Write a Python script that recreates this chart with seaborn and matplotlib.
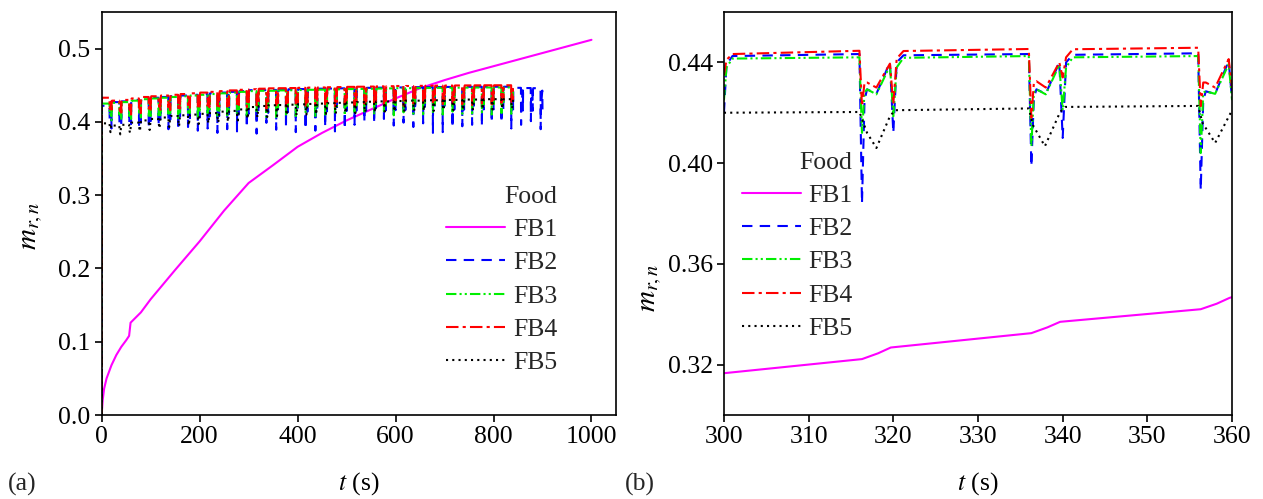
import numpy as np
import pandas as pd
import matplotlib
matplotlib.use("Agg")
import matplotlib.pyplot as plt
import seaborn as sns

# ---------------- data ----------------
series_names = ["FB1", "FB2", "FB3", "FB4", "FB5"]

# panel (a): FB1 continuous curve
fb1_a_t = [0, 2, 5, 10, 20, 30, 40, 50, 56, 59, 80, 100, 150, 200, 250, 300, 350,
           400, 450, 500, 550, 600, 650, 700, 750, 800, 850, 900, 950, 1000]
fb1_a_v = [0, 0.02, 0.036, 0.05, 0.068, 0.082, 0.093, 0.102, 0.108, 0.126, 0.140, 0.158,
           0.198, 0.237, 0.279, 0.3166, 0.341, 0.366, 0.385, 0.402, 0.417, 0.432, 0.446,
           0.457, 0.467, 0.476, 0.485, 0.494, 0.503, 0.512]

# panel (a): per 20-s cycle plateau levels and dip minima
fb2_plateau = [0.422, 0.427, 0.428, 0.430, 0.432, 0.433, 0.434, 0.435, 0.436, 0.437,
               0.438, 0.439, 0.440, 0.441, 0.442, 0.4433, 0.4433, 0.4436, 0.4442, 0.4445,
               0.4448, 0.445, 0.4453, 0.4455, 0.4458, 0.446, 0.4462, 0.4465, 0.4467, 0.447,
               0.447, 0.4472, 0.4474, 0.4475, 0.4476, 0.4477, 0.4478, 0.4479, 0.448, 0.448,
               0.448, 0.448, 0.4465, 0.4462, 0.446]
fb2_dip = [0.405, 0.399, 0.398, 0.394, 0.392, 0.395, 0.390, 0.389, 0.393, 0.388,
           0.391, 0.385, 0.390, 0.387, 0.392, 0.384, 0.3987, 0.3893, 0.392, 0.386,
           0.390, 0.388, 0.393, 0.387, 0.390, 0.396, 0.400, 0.398, 0.404, 0.395,
           0.399, 0.393, 0.398, 0.385, 0.386, 0.392, 0.394, 0.396, 0.394, 0.399,
           0.399, 0.391, 0.396, 0.401, 0.390]
fb3_plateau = [0.425, 0.426, 0.427, 0.429, 0.431, 0.432, 0.433, 0.434, 0.435, 0.436,
               0.437, 0.438, 0.439, 0.440, 0.441, 0.442, 0.4425, 0.4425, 0.443, 0.4432,
               0.4435, 0.4438, 0.444, 0.4443, 0.4445, 0.4448, 0.445, 0.4452, 0.4455, 0.4457,
               0.446, 0.446, 0.4462, 0.4464, 0.4465, 0.4466, 0.4467, 0.4468, 0.4469, 0.447,
               0.447, 0.447]
fb3_dip = [0.412, 0.410, 0.408, 0.410, 0.406, 0.409, 0.411, 0.405, 0.410, 0.407,
           0.412, 0.406, 0.409, 0.411, 0.408, 0.412, 0.4067, 0.404, 0.410, 0.408,
           0.412, 0.406, 0.410, 0.413, 0.409, 0.411, 0.414, 0.410, 0.412, 0.409,
           0.413, 0.411, 0.408, 0.412, 0.410, 0.414, 0.411, 0.409, 0.413, 0.410,
           0.412, 0.411]
fb4_plateau = [0.433, 0.429, 0.430, 0.432, 0.434, 0.435, 0.436, 0.437, 0.438, 0.439,
               0.440, 0.441, 0.442, 0.443, 0.4438, 0.4446, 0.4453, 0.4458, 0.446, 0.4462,
               0.4465, 0.4468, 0.447, 0.4473, 0.4475, 0.4478, 0.448, 0.4482, 0.4485, 0.4487,
               0.449, 0.449, 0.4492, 0.4494, 0.4495, 0.4496, 0.4497, 0.4498, 0.4499, 0.450,
               0.450, 0.450]
fb4_dip = [0.418, 0.420, 0.419, 0.421, 0.418, 0.422, 0.420, 0.419, 0.423, 0.420,
           0.422, 0.419, 0.421, 0.423, 0.420, 0.4226, 0.418, 0.4226, 0.421, 0.423,
           0.420, 0.424, 0.422, 0.421, 0.424, 0.422, 0.425, 0.423, 0.421, 0.424,
           0.422, 0.425, 0.423, 0.424, 0.422, 0.425, 0.424, 0.423, 0.425, 0.424,
           0.426, 0.425]
fb5_plateau = [0.398, 0.395, 0.396, 0.399, 0.402, 0.404, 0.406, 0.408, 0.409, 0.410,
               0.411, 0.412, 0.414, 0.415, 0.417, 0.4203, 0.4217, 0.4227, 0.423, 0.4235,
               0.424, 0.4245, 0.425, 0.4255, 0.426, 0.4265, 0.427, 0.4275, 0.428, 0.428,
               0.4285, 0.429, 0.429, 0.4295, 0.4295, 0.430, 0.430, 0.4305, 0.4305, 0.431,
               0.431, 0.431]
fb5_dip = [0.386, 0.383, 0.385, 0.387, 0.389, 0.391, 0.393, 0.394, 0.395, 0.397,
           0.398, 0.399, 0.400, 0.402, 0.404, 0.406, 0.4067, 0.408, 0.409, 0.409,
           0.410, 0.410, 0.411, 0.411, 0.412, 0.412, 0.413, 0.413, 0.414, 0.414,
           0.414, 0.415, 0.415, 0.415, 0.416, 0.416, 0.416, 0.417, 0.417, 0.417,
           0.418, 0.418]
start_levels = {"FB2": 0.415, "FB3": 0.418, "FB4": 0.425, "FB5": 0.397}

# within-cycle shape: time offsets in s, level offsets
cycle_period = 20.0
cyc_t = [0.4, 1.2, 16.0, 16.3, 16.6, 16.9, 18.0, 19.6, 20.0]
cyc_rel = {
    "FB2": [-0.003, 0.0, 0.0, None, -0.018, -0.014, -0.016, -0.0033, -0.031],
    "FB3": [-0.003, 0.0, 0.0, None, -0.014, -0.0127, -0.0147, -0.0033, -0.023],
    "FB4": [-0.003, 0.0, 0.0, None, -0.0126, -0.0126, -0.0146, -0.005, -0.020],
}
cyc5_t = [0.4, 16.0, 16.9, 18.0, 19.6]
cyc5_rel = [0.0, 0.0, -0.0083, None, -0.0017]

# panel (b): detailed curves 300-360 s
tb = [300.0, 300.3, 301.0, 316.0, 316.3, 316.6, 316.9, 318.0, 319.6, 320.0, 320.4, 321.2,
      336.0, 336.3, 336.6, 336.9, 338.0, 339.6, 340.0, 340.4, 341.2,
      356.0, 356.3, 356.6, 356.9, 358.0, 359.6, 360.0]
fb2_b = [0.420, 0.439, 0.4425, 0.4433, 0.384, 0.425, 0.4293, 0.4275, 0.440, 0.412, 0.440,
         0.4428, 0.4433, 0.3987, 0.426, 0.4293, 0.4275, 0.440, 0.410, 0.440, 0.4430,
         0.4436, 0.3893, 0.425, 0.4285, 0.4275, 0.4405, 0.4253]
fb3_b = [0.425, 0.438, 0.4415, 0.442, 0.412, 0.428, 0.4293, 0.4273, 0.4387, 0.4186, 0.438,
         0.4418, 0.4425, 0.4067, 0.428, 0.4293, 0.4273, 0.439, 0.421, 0.438, 0.4420,
         0.4425, 0.404, 0.428, 0.4285, 0.4275, 0.4393, 0.425]
fb4_b = [0.435, 0.441, 0.4433, 0.4446, 0.4226, 0.432, 0.432, 0.430, 0.4395, 0.4235, 0.4415,
         0.4445, 0.4453, 0.418, 0.432, 0.4325, 0.430, 0.440, 0.434, 0.442, 0.4452,
         0.4458, 0.4226, 0.432, 0.432, 0.430, 0.4413, 0.430]
fb5_b_t = [300.0, 316.0, 316.9, 318.0, 319.6, 320.2, 336.0, 336.5, 337.9, 339.7, 340.3,
           356.0, 356.5, 358.0, 360.0]
fb5_b_v = [0.4200, 0.4203, 0.412, 0.406, 0.4186, 0.4210, 0.4217, 0.415, 0.4067, 0.4203,
           0.4223, 0.4227, 0.416, 0.408, 0.421]
fb1_b_t = [300.0, 316.3, 318.2, 319.7, 336.3, 338.2, 339.7, 356.3, 358.2, 359.7, 360.0]
fb1_b_v = [0.3166, 0.3222, 0.3245, 0.3268, 0.3325, 0.3348, 0.3370, 0.3420, 0.3442,
           0.3465, 0.3468]

a_xticks = [0, 200, 400, 600, 800, 1000]
a_yticks = [0.0, 0.1, 0.2, 0.3, 0.4, 0.5]
b_xticks = [300, 310, 320, 330, 340, 350, 360]
b_yticks = [0.32, 0.36, 0.40, 0.44]


# ---------------- assemble cycle series ----------------
def build_cycles(name, plateau, dip):
    t, v = [0.0, 0.3], [0.0, start_levels[name]]
    for k, (p, d) in enumerate(zip(plateau, dip)):
        for off, rel in zip(cyc_t, cyc_rel[name]):
            t.append(k * cycle_period + off)
            v.append(d if rel is None else p + rel)
    return t, v


def build_fb5(plateau, dip):
    t, v = [0.0, 0.3], [0.0, start_levels["FB5"]]
    for k, (p, d) in enumerate(zip(plateau, dip)):
        for off, rel in zip(cyc5_t, cyc5_rel):
            t.append(k * cycle_period + off)
            v.append(d if rel is None else p + rel)
    t.append(len(plateau) * cycle_period)
    v.append(plateau[-1])
    return t, v


a_data = {
    "FB1": (fb1_a_t, fb1_a_v),
    "FB2": build_cycles("FB2", fb2_plateau, fb2_dip),
    "FB3": build_cycles("FB3", fb3_plateau, fb3_dip),
    "FB4": build_cycles("FB4", fb4_plateau, fb4_dip),
    "FB5": build_fb5(fb5_plateau, fb5_dip),
}
b_data = {
    "FB1": (fb1_b_t, fb1_b_v),
    "FB2": (tb, fb2_b),
    "FB3": (tb, fb3_b),
    "FB4": (tb, fb4_b),
    "FB5": (fb5_b_t, fb5_b_v),
}

styles = {
    "FB1": dict(color="#ff00ff", linestyle="-"),
    "FB2": dict(color="#0000ff", linestyle=(0, (5, 3.5))),
    "FB3": dict(color="#00ee00", linestyle=(0, (5, 1.5, 1, 1.5, 1, 1.5))),
    "FB4": dict(color="#ff0000", linestyle=(0, (6, 2, 1.5, 2))),
    "FB5": dict(color="#000000", linestyle=(0, (1, 2))),
}

# ---------------- plotting ----------------
sns.set_theme(style="ticks")
plt.rcParams["font.family"] = ["Liberation Serif", "DejaVu Serif"]
plt.rcParams["mathtext.fontset"] = "stix"
FS = 18.5

fig = plt.figure(figsize=(12.63, 4.99), dpi=100)
ax1 = fig.add_axes([0.0805, 0.1683, 0.4072, 0.8077])
ax2 = fig.add_axes([0.5732, 0.1683, 0.4023, 0.8077])

for ax, data in ((ax1, a_data), (ax2, b_data)):
    for name in series_names:
        t, v = data[name]
        df = pd.DataFrame({"t": t, "v": v})
        sns.lineplot(data=df, x="t", y="v", ax=ax, estimator=None, sort=False,
                     linewidth=1.5, label=name, **styles[name])

ax1.set_xlim(0, 1050)
ax1.set_ylim(0, 0.55)
ax1.set_xticks(a_xticks)
ax1.set_yticks(a_yticks)
ax1.set_yticklabels([f"{y:.1f}" for y in a_yticks])

ax2.set_xlim(300, 360)
ax2.set_ylim(0.30, 0.46)
ax2.set_xticks(b_xticks)
ax2.set_yticks(b_yticks)
ax2.set_yticklabels([f"{y:.2f}" for y in b_yticks])

for ax in (ax1, ax2):
    for sp in ax.spines.values():
        sp.set_visible(True)
        sp.set_color("black")
        sp.set_linewidth(1.2)
    ax.tick_params(direction="out", length=5, width=1.2, color="black",
                   labelsize=FS, labelcolor="black", pad=3)
    ax.set_xlabel(r"$t$ (s)", fontsize=FS, color="black")
    ax.set_ylabel(r"$m_{r,n}$", fontsize=21, color="black")
    ax.xaxis.set_label_coords(0.5, -0.138)

ax1.yaxis.set_label_coords(-0.11, 0.47)
ax2.yaxis.set_label_coords(-0.118, 0.315)

leg_kw = dict(title="Food", frameon=False, fontsize=FS, title_fontsize=FS,
              handlelength=2.3, handletextpad=0.3, labelspacing=0.4,
              alignment="right", borderpad=0.2, loc="center")
ax1.legend(bbox_to_anchor=(0.778, 0.335), **leg_kw)
ax2.legend(bbox_to_anchor=(0.144, 0.42), **leg_kw)

fig.text(8 / 1263, 1 - 484 / 499, "(a)", fontsize=FS, va="center", ha="left")
fig.text(625 / 1263, 1 - 484 / 499, "(b)", fontsize=FS, va="center", ha="left")

fig.savefig("out.png", dpi=100)
